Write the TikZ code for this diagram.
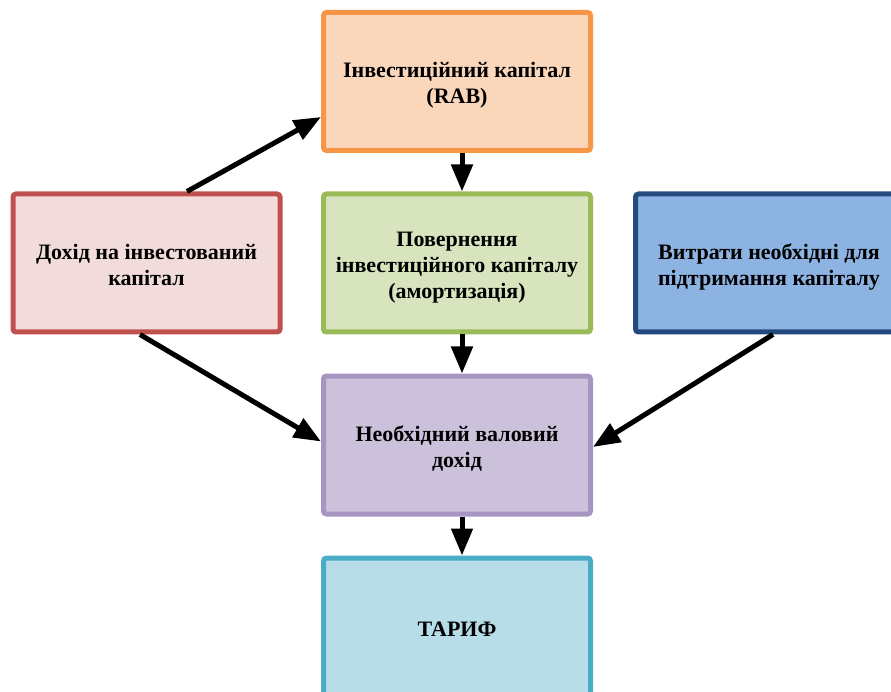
\documentclass[tikz,border=0pt]{standalone}
\usepackage{fontspec}
\setmainfont{Liberation Serif}
\usetikzlibrary{arrows.meta}
\definecolor{obord}{HTML}{F79646}\definecolor{ofill}{HTML}{FAD7BB}
\definecolor{gbord}{HTML}{9BBB59}\definecolor{gfill}{HTML}{D8E4BE}
\definecolor{rbord}{HTML}{C0504D}\definecolor{rfill}{HTML}{F2DCDB}
\definecolor{bbord}{HTML}{254A7E}\definecolor{bfill}{HTML}{8DB3E2}
\definecolor{pbord}{HTML}{A795C1}\definecolor{pfill}{HTML}{CCC1DA}
\definecolor{tbord}{HTML}{4BACC6}\definecolor{tfill}{HTML}{B7DDE8}
\newcommand\boxlines[1]{\raisebox{-4pt}[\height][\depth]{\begin{tabular}{@{}c@{}}#1\end{tabular}}}
\tikzset{
  box/.style={draw, line width=5pt, rounded corners=3pt, minimum width=267pt,
    minimum height=138pt, inner sep=0pt,
    font=\bfseries\fontsize{22}{26}\selectfont},
  arr/.style={-{Triangle[length=27pt,width=21pt]}, line width=5pt, black}
}
\begin{document}
\begin{tikzpicture}[x=1pt,y=-1pt]
\useasboundingbox (0,0) rectangle (891,692);
\clip (0,0) rectangle (891,692);
\node[box, draw=obord, fill=ofill] (top) at (457,81.5) {\boxlines{Інвестиційний капітал\\(RAB)}};
\node[box, draw=gbord, fill=gfill] (green) at (457,263) {\boxlines{Повернення\\інвестиційного капіталу\\(амортизація)}};
\node[box, draw=rbord, fill=rfill] (red) at (146.5,263) {\boxlines{Дохід на інвестований\\капітал}};
\node[box, draw=bbord, fill=bfill] (blue) at (769,263) {\boxlines{Витрати необхідні для\\підтримання капіталу}};
\node[box, draw=pbord, fill=pfill] (purple) at (457,445) {\boxlines{Необхідний валовий\\дохід}};
\node[box, draw=tbord, fill=tfill] (tarif) at (457,627) {\boxlines{ТАРИФ}};
\draw[arr] ([xshift=5pt]top.south) -- ([xshift=5pt]green.north);
\draw[arr] ([xshift=5pt]green.south) -- ([xshift=5pt]purple.north);
\draw[arr] ([xshift=5pt]purple.south) -- ([xshift=5pt]tarif.north);
\draw[arr] ([xshift=40.5pt]red.north) -- ([yshift=-35.5pt]top.west);
\draw[arr] ([xshift=-6.5pt]red.south) -- ([yshift=3.5pt]purple.west);
\draw[arr] ([xshift=4pt]blue.south) -- ([yshift=-2pt]purple.east);
\end{tikzpicture}
\end{document}
